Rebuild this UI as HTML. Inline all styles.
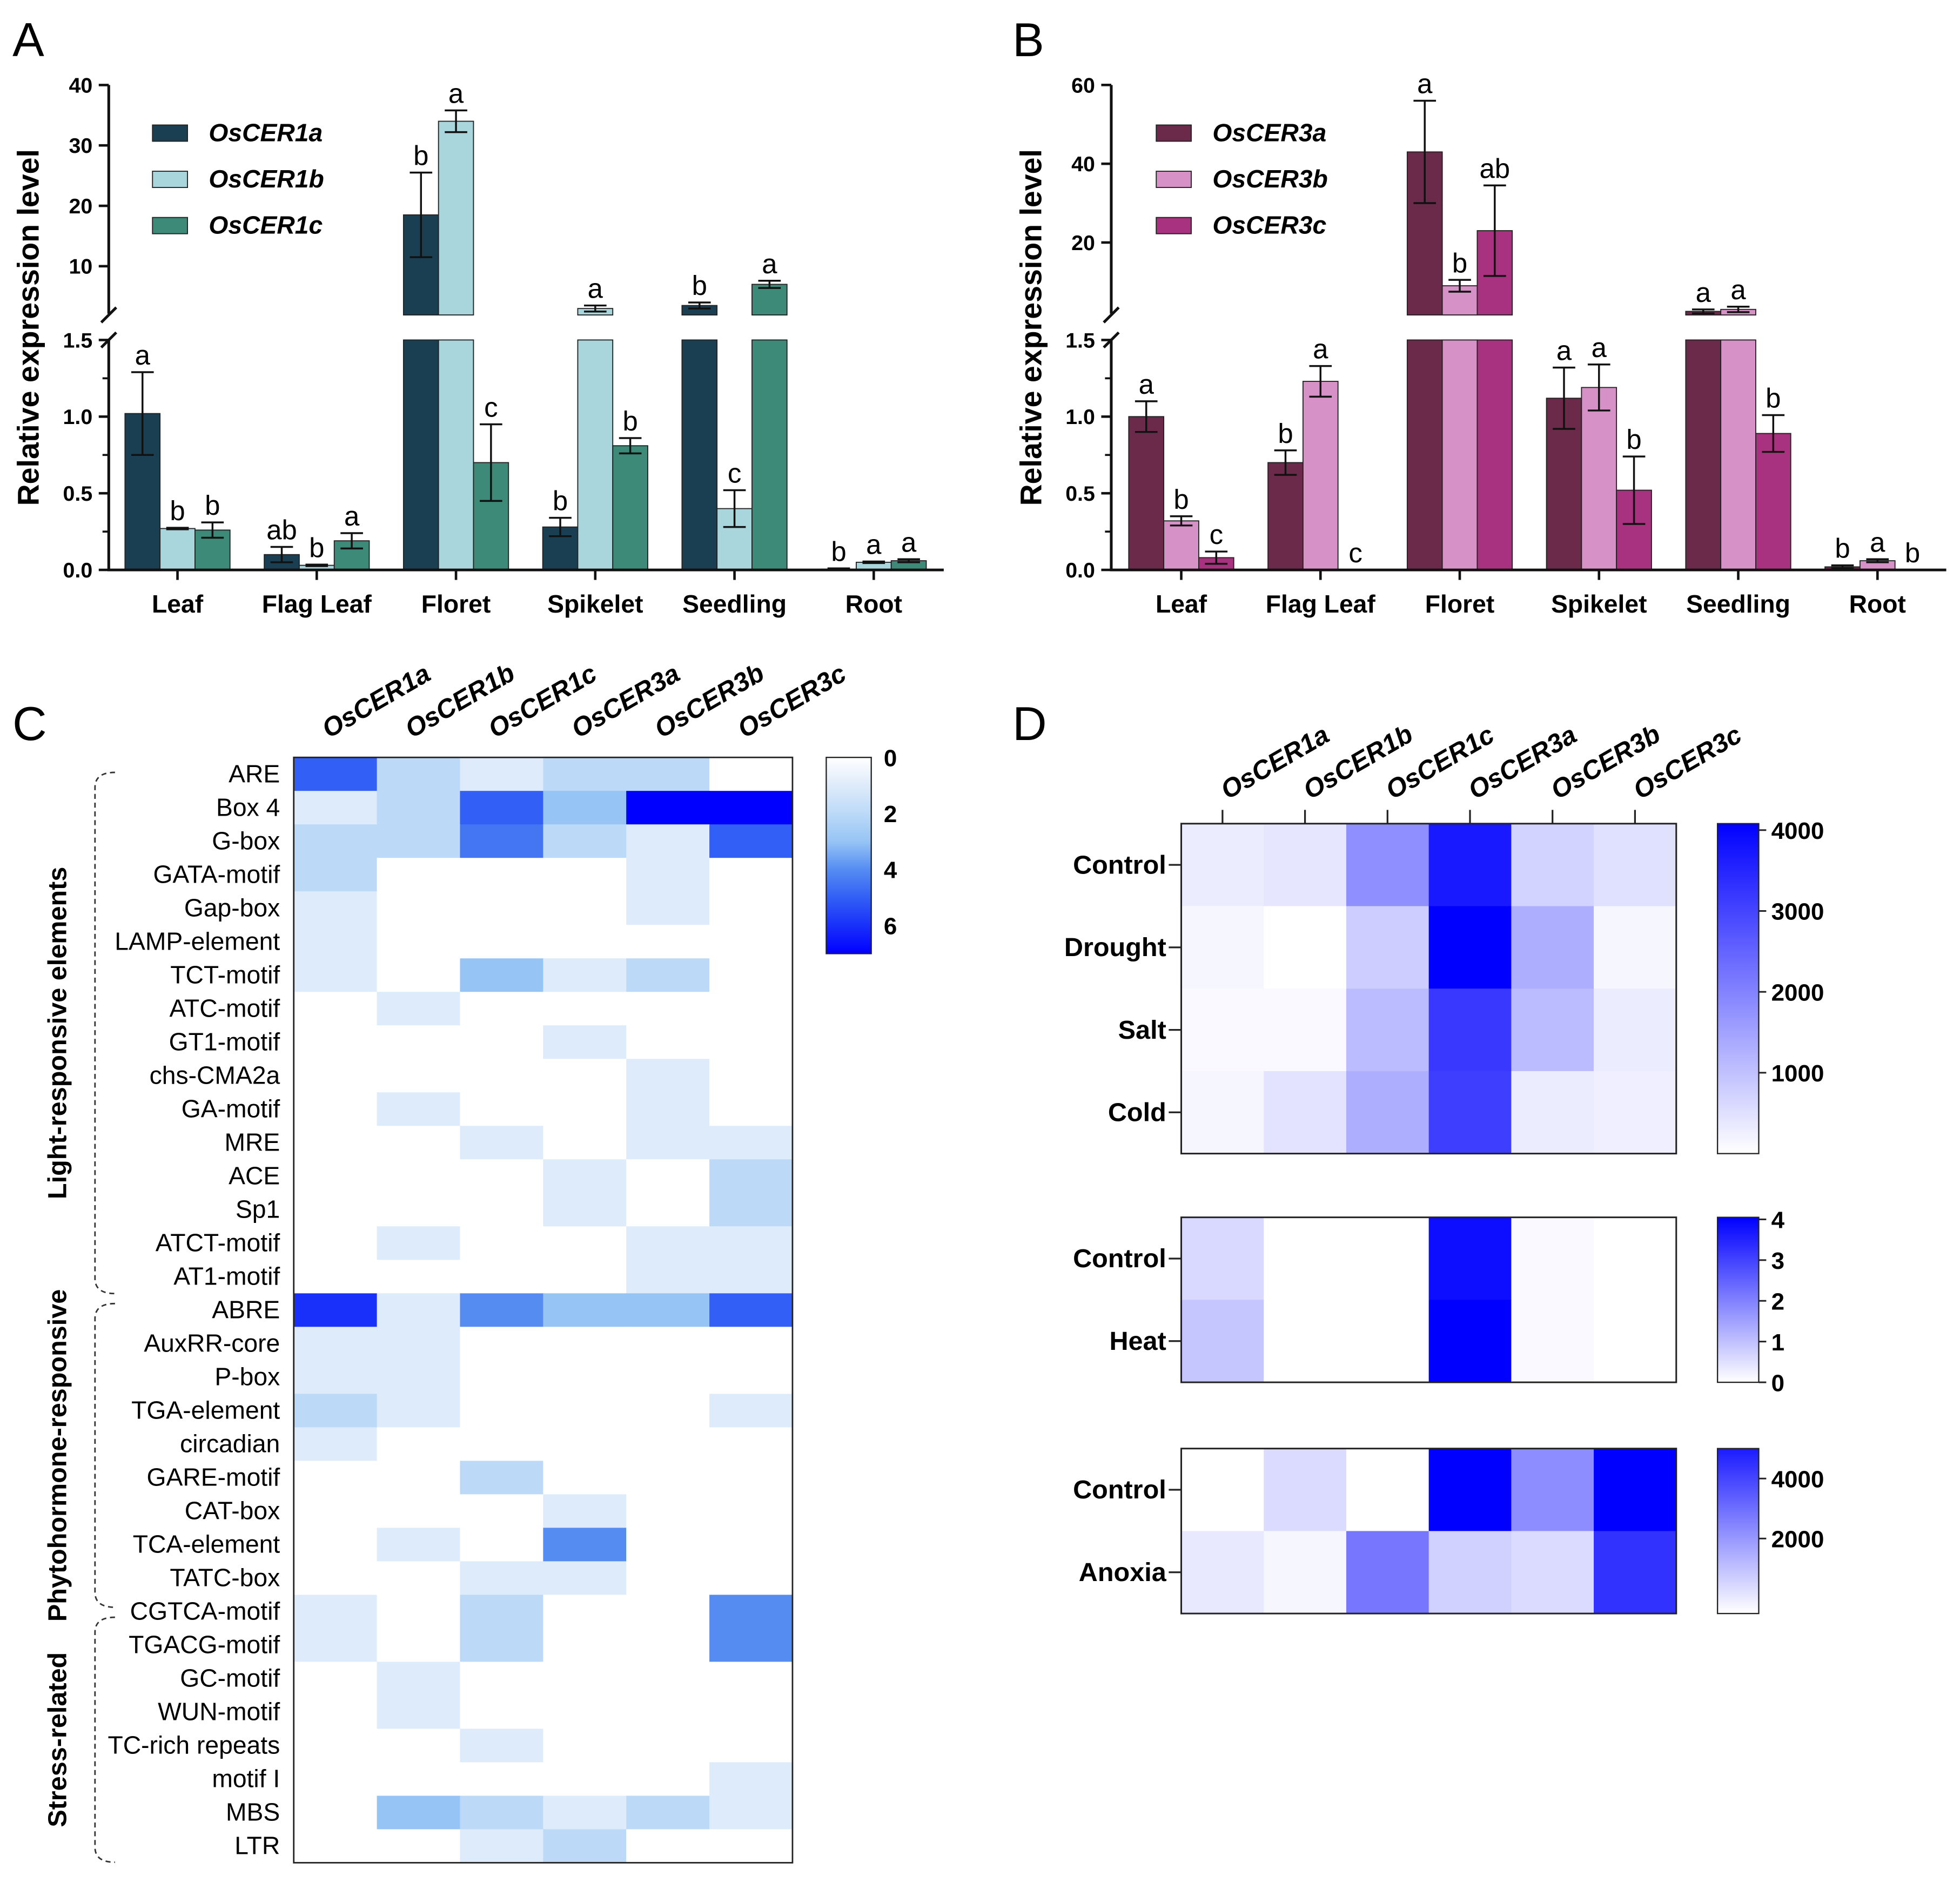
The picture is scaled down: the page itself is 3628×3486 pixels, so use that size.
<!DOCTYPE html>
<html><head><meta charset="utf-8">
<style>
html,body{margin:0;padding:0;background:#fff;}
svg{display:block;}
text{font-family:"Liberation Sans",Arial,sans-serif;}
</style></head>
<body>
<svg id="fig" xmlns="http://www.w3.org/2000/svg" width="3628" height="3486" viewBox="0 0 1568 1506.6"></svg>
<script>
// ---------- Panel A data ----------
const catsAB = ["Leaf","Flag Leaf","Floret","Spikelet","Seedling","Root"];
const seriesA = ["OsCER1a","OsCER1b","OsCER1c"];
const valsA1 = [1.02,0.10,18.5,0.28,3.5,0.005];
const valsA2 = [0.27,0.03,34,3.0,0.40,0.05];
const valsA3 = [0.26,0.19,0.70,0.81,7.0,0.06];
const errA1 = [0.27,0.05,7,0.06,0.5,0.005];
const errA2 = [0.005,0.005,1.8,0.5,0.12,0.005];
const errA3 = [0.05,0.05,0.25,0.05,0.6,0.01];
const letA1 = ["a","ab","b","b","b","b"];
const letA2 = ["b","b","a","a","c","a"];
const letA3 = ["b","a","c","b","a","a"];
// ---------- Panel B data ----------
const seriesB = ["OsCER3a","OsCER3b","OsCER3c"];
const valsB1 = [1.0,0.70,43,1.12,2.5,0.02];
const valsB2 = [0.32,1.23,9,1.19,3.0,0.06];
const valsB3 = [0.08,0.0,23,0.52,0.89,0.0];
const errB1 = [0.1,0.08,13,0.2,0.5,0.01];
const errB2 = [0.03,0.1,1.5,0.15,0.7,0.01];
const errB3 = [0.04,0,11.5,0.22,0.12,0];
const letB1 = ["a","b","a","a","a","b"];
const letB2 = ["b","a","b","a","a","a"];
const letB3 = ["c","c","ab","b","b","b"];
// ---------- Panel C data ----------
const genes = ["OsCER1a","OsCER1b","OsCER1c","OsCER3a","OsCER3b","OsCER3c"];
const motifs = ["ARE","Box 4","G-box","GATA-motif","Gap-box","LAMP-element","TCT-motif","ATC-motif","GT1-motif","chs-CMA2a","GA-motif","MRE","ACE","Sp1","ATCT-motif","AT1-motif","ABRE","AuxRR-core","P-box","TGA-element","circadian","GARE-motif","CAT-box","TCA-element","TATC-box","CGTCA-motif","TGACG-motif","GC-motif","WUN-motif","TC-rich repeats","motif I","MBS","LTR"];
const motifCounts = [
[5,2,1,2,2,0],[1,2,5,3,7,7],[2,2,4.5,2,1,5],[2,0,0,0,1,0],[1,0,0,0,1,0],[1,0,0,0,0,0],
[1,0,3,1,2,0],[0,1,0,0,0,0],[0,0,0,1,0,0],[0,0,0,0,1,0],[0,1,0,0,1,0],[0,0,1,0,1,1],
[0,0,0,1,0,2],[0,0,0,1,0,2],[0,1,0,0,1,1],[0,0,0,0,1,1],[6,1,4,3,3,5],[1,1,0,0,0,0],
[1,1,0,0,0,0],[2,1,0,0,0,1],[1,0,0,0,0,0],[0,0,2,0,0,0],[0,0,0,1,0,0],[0,1,0,4,0,0],
[0,0,1,1,0,0],[1,0,2,0,0,4],[1,0,2,0,0,4],[0,1,0,0,0,0],[0,1,0,0,0,0],[0,0,1,0,0,0],
[0,0,0,0,0,1],[0,3,2,1,2,1],[0,0,1,2,0,0]];
const cbTicksC = [0,2,4,6];
// ---------- Panel D data ----------
const condD1 = ["Control","Drought","Salt","Cold"];
const valsD1 = [[300,400,1800,3700,700,500],[150,0,800,4100,1300,150],[100,100,1100,3200,1100,300],[150,450,1300,3100,300,250]];
const ticksD1 = [1000,2000,3000,4000];
const condD2 = ["Control","Heat"];
const valsD2 = [[0.6,0,0,3.8,0.1,0],[0.9,0,0,4,0.1,0]];
const ticksD2 = [0,1,2,3,4];
const condD3 = ["Control","Anoxia"];
const valsD3 = [[0,800,0,5600,2500,5600],[500,200,3000,1000,800,4500]];
const ticksD3 = [2000,4000];

const NS="http://www.w3.org/2000/svg";
const svg=document.getElementById('fig');
function mk(tag,attrs,parent,txt){const e=document.createElementNS(NS,tag);for(const k in attrs)e.setAttribute(k,attrs[k]);if(txt!==undefined)e.textContent=txt;(parent||svg).appendChild(e);return e;}

[["A",10,45],["B",810,45],["C",10,592],["D",810,592]].forEach(p=>{
  const t=mk('text',{x:p[1],y:p[2],'font-size':38},svg,p[0]);
  
  
});

function barPanel(id,x0,xEnd,cx0,upperRef,upperPer,upperTicks,series,vals,errs,lets,colors,legX){
  const g=mk('g',{});
  
  
  const y0=456, yLowTop=272, yUpBot=252;
  const y=v=> v<=1.5 ? y0-v/1.5*(y0-yLowTop) : upperRef.y-(v-upperRef.v)*upperPer;
  const step=111.4, bw=28;
  series.forEach((s,si)=>{
    vals[si].forEach((v,ci)=>{
      const cx=cx0+ci*step, bx=cx-42+si*28;
      if(v<=1.5){
        if(v>0){const r=mk('rect',{x:bx,y:y(v),width:bw,height:y0-y(v),fill:colors[si],stroke:'#222','stroke-width':0.8},g);
        
        }
      } else {
        const r1=mk('rect',{x:bx,y:yLowTop,width:bw,height:y0-yLowTop,fill:colors[si],stroke:'#222','stroke-width':0.8},g);
        
        
        const r2=mk('rect',{x:bx,y:y(v),width:bw,height:Math.max(0,yUpBot-y(v)),fill:colors[si],stroke:'#222','stroke-width':0.8},g);
        
        
      }
      const e=errs[si][ci], mx=bx+bw/2;
      let top=y(v);
      if(e>0){
        const yt=y(v+e), yb=y(Math.max(0,v-e));
        mk('line',{x1:mx,x2:mx,y1:yt,y2:yb,stroke:'#111','stroke-width':1.5},g);
        mk('line',{x1:mx-9,x2:mx+9,y1:yt,y2:yt,stroke:'#111','stroke-width':1.5},g);
        mk('line',{x1:mx-9,x2:mx+9,y1:yb,y2:yb,stroke:'#111','stroke-width':1.5},g);
        top=yt;
      }
      const lt=mk('text',{x:mx,y:top-6,'font-size':22,'text-anchor':'middle'},g,lets[si][ci]);
      
      
    });
  });
  mk('line',{x1:x0,x2:x0,y1:68,y2:251,stroke:'#111','stroke-width':2.2},g);
  mk('line',{x1:x0,x2:x0,y1:272,y2:457,stroke:'#111','stroke-width':2.2},g);
  mk('line',{x1:x0-6,x2:x0+6,y1:258,y2:246,stroke:'#111','stroke-width':2.2},g);
  mk('line',{x1:x0-6,x2:x0+6,y1:278,y2:266,stroke:'#111','stroke-width':2.2},g);
  mk('line',{x1:x0-1,x2:xEnd,y1:y0,y2:y0,stroke:'#111','stroke-width':2.2},g);
  [0,0.5,1.0,1.5].forEach(t=>{
    mk('line',{x1:x0-8,x2:x0,y1:y(t),y2:y(t),stroke:'#111','stroke-width':2},g);
    const tx=mk('text',{x:x0-13,y:y(t)+6,'font-size':17,'font-weight':'bold','text-anchor':'end'},g,t.toFixed(1));
    
    
  });
  [0.25,0.75,1.25].forEach(t=>mk('line',{x1:x0-5,x2:x0,y1:y(t),y2:y(t),stroke:'#111','stroke-width':1.6},g));
  upperTicks.forEach(t=>{
    mk('line',{x1:x0-8,x2:x0,y1:y(t),y2:y(t),stroke:'#111','stroke-width':2},g);
    const tx=mk('text',{x:x0-13,y:y(t)+6,'font-size':17,'font-weight':'bold','text-anchor':'end'},g,String(t));
    
    
  });
  catsAB.forEach((c,ci)=>{
    const cx=cx0+ci*step;
    mk('line',{x1:cx,x2:cx,y1:y0,y2:y0+8,stroke:'#111','stroke-width':2},g);
    const tx=mk('text',{x:cx,y:490,'font-size':20,'font-weight':'bold','text-anchor':'middle'},g,c);
    
    
  });
  const yt=mk('text',{x:0,y:0,'font-size':24,'font-weight':'bold','text-anchor':'middle',transform:`translate(${x0-56},262) rotate(-90)`},g,'Relative expression level');
  
  
  series.forEach((s,si)=>{
    const ly=100+si*37;
    const r=mk('rect',{x:legX,y:ly,width:28,height:13,fill:colors[si],stroke:'#222','stroke-width':0.8},g);
    
    
    const t=mk('text',{x:legX+45,y:ly+13,'font-size':20,'font-weight':'bold','font-style':'italic'},g,s);
    
    
  });
}
barPanel('a',87,755,142,{v:10,y:213},4.833,[10,20,30,40],seriesA,[valsA1,valsA2,valsA3],[errA1,errA2,errA3],[letA1,letA2,letA3],['#1b3f52','#a9d6dc','#3e8a78'],122);
barPanel('b',889,1557,945,{v:20,y:194},3.15,[20,40,60],seriesB,[valsB1,valsB2,valsB3],[errB1,errB2,errB3],[letB1,letB2,letB3],['#6b2a4a','#d692c7','#a8327f'],925);

function colC(v){
  const stops=[[0,[255,255,255]],[1,[222,235,250]],[2,[188,218,248]],[3,[150,196,245]],[4,[85,140,242]],[5,[50,95,245]],[7,[0,0,255]]];
  v=Math.max(0,Math.min(7,v));
  for(let i=1;i<stops.length;i++){if(v<=stops[i][0]){const a=stops[i-1],b=stops[i],t=(v-a[0])/(b[0]-a[0]);
    const c=a[1].map((x,k)=>Math.round(x+(b[1][k]-x)*t));return `rgb(${c.join(',')})`;}}
  return 'rgb(0,0,255)';
}
const gC=mk('g',{});


const cx0C=235, cy0C=606, cwC=66.5, chC=26.8;
motifs.forEach((m,ri)=>{
  motifCounts[ri].forEach((v,ci)=>{
    const r=mk('rect',{x:cx0C+ci*cwC,y:cy0C+ri*chC,width:cwC+0.4,height:chC+0.4,fill:colC(v)},gC);
    
    
  });
  const t=mk('text',{x:224,y:cy0C+ri*chC+20,'font-size':20,'text-anchor':'end'},gC,m);
  
  
});
mk('rect',{x:cx0C,y:cy0C,width:cwC*6,height:chC*33,fill:'none',stroke:'#222','stroke-width':1.2},gC);
genes.forEach((gn,ci)=>{
  const t=mk('text',{x:0,y:0,'font-size':21,'font-weight':'bold','font-style':'italic',transform:`translate(${cx0C+ci*cwC+28},591) rotate(-30)`},gC,gn);
  
  
});
const defs=mk('defs',{});
const lgC=mk('linearGradient',{id:'gC',x1:0,y1:0,x2:0,y2:1},defs);
[0,1,2,3,4,5,6,7].forEach(v=>mk('stop',{offset:v/7,'stop-color':colC(v)},lgC));
const cbC=mk('rect',{x:661,y:606,width:36,height:157,fill:'url(#gC)',stroke:'#222','stroke-width':1},gC);


cbTicksC.forEach(t=>{
  const yy=606+t*22.4;
  const tx=mk('text',{x:707,y:yy+7,'font-size':19,'font-weight':'bold'},gC,String(t));
  
  
});
[["Light-responsive elements",618,1035],["Phytohormone-responsive",1043,1286],["Stress-related",1294,1490]].forEach(gr=>{
  const p=mk('path',{d:`M92,${gr[1]} Q76,${gr[1]} 76,${gr[1]+12} L76,${gr[2]-12} Q76,${gr[2]} 92,${gr[2]}`,fill:'none',stroke:'#333','stroke-width':1.2,'stroke-dasharray':'4,3'},gC);
  
  
  const t=mk('text',{x:0,y:0,'font-size':21,'font-weight':'bold','text-anchor':'middle',transform:`translate(53,${(gr[1]+gr[2])/2}) rotate(-90)`},gC,gr[0]);
  
  
});

function colD(f){f=Math.max(0,Math.min(1,f));const c=Math.round(255*(1-f));return `rgb(${c},${c},255)`;}
function heatD(id,conds,vals,y0,rows,vmin,vmax,ticks,cbMin,cbMax,topTicks){
  const g=mk('g',{});
  
  
  const x0=945,cw=66,ch=66;
  conds.forEach((c,ri)=>{
    vals[ri].forEach((v,ci)=>{
      const r=mk('rect',{x:x0+ci*cw,y:y0+ri*ch,width:cw+0.4,height:ch+0.4,fill:colD((v-vmin)/(vmax-vmin))},g);
      
      
    });
    const yy=y0+ri*ch+ch/2;
    mk('line',{x1:x0-10,x2:x0,y1:yy,y2:yy,stroke:'#222','stroke-width':1.4},g);
    const t=mk('text',{x:x0-12,y:yy+7,'font-size':21,'font-weight':'bold','text-anchor':'end'},g,c);
    
    
  });
  mk('rect',{x:x0,y:y0,width:cw*6,height:ch*rows,fill:'none',stroke:'#222','stroke-width':1.3},g);
  if(topTicks){genes.forEach((gn,ci)=>{
    const xx=x0+ci*cw+cw/2;
    mk('line',{x1:xx,x2:xx,y1:y0-11,y2:y0,stroke:'#222','stroke-width':1.4},g);
    const t=mk('text',{x:0,y:0,'font-size':21,'font-weight':'bold','font-style':'italic',transform:`translate(${xx+4},${y0-19}) rotate(-30)`},g,gn);
    
    
  });}
  const lg=mk('linearGradient',{id:'g'+id,x1:0,y1:1,x2:0,y2:0},defs);
  mk('stop',{offset:0,'stop-color':colD((cbMin-vmin)/(vmax-vmin))},lg);
  mk('stop',{offset:1,'stop-color':colD((cbMax-vmin)/(vmax-vmin))},lg);
  const h=ch*rows;
  const cb=mk('rect',{x:1374,y:y0,width:33,height:h,fill:`url(#g${id})`,stroke:'#222','stroke-width':1},g);
  
  
  ticks.forEach(t=>{
    const yy=y0+h-(t-cbMin)/(cbMax-cbMin)*h;
    mk('line',{x1:1407,x2:1413,y1:yy,y2:yy,stroke:'#222','stroke-width':1.3},g);
    const tx=mk('text',{x:1417,y:yy+7,'font-size':19,'font-weight':'bold'},g,String(t));
    
    
  });
}
heatD('d1',condD1,valsD1,659,4,0,4100,ticksD1,0,4080,true);
heatD('d2',condD2,valsD2,974,2,0,4,ticksD2,0,4.05,false);
heatD('d3',condD3,valsD3,1159,2,0,5600,ticksD3,-500,5000,false);
</script>
</body></html>
